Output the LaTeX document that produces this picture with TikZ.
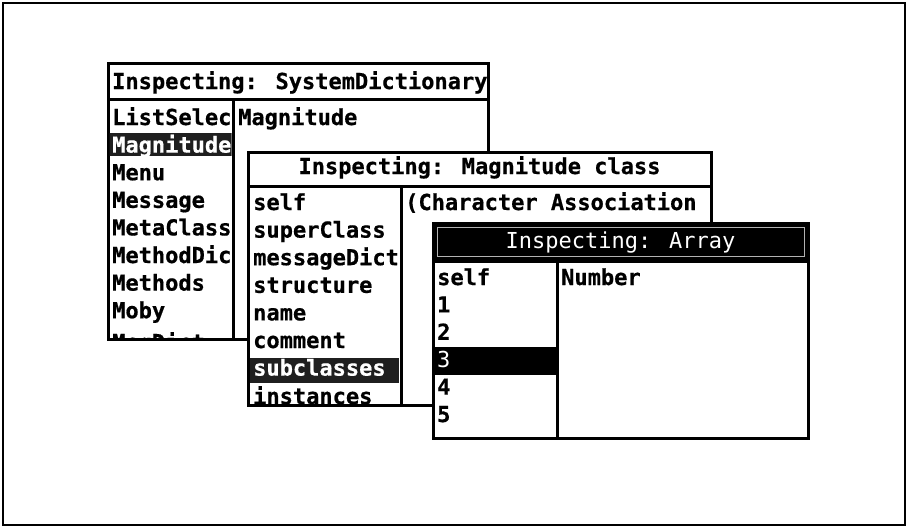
\documentclass[tikz,border=0pt]{standalone}
\usepackage{fontspec}
\newfontfamily\termfont{DejaVu Sans Mono}[BoldFeatures={FakeBold=0.6}]
\tikzset{
  x=1pt, y=-1pt,
  pane/.style={draw=black, line width=3pt, fill=white},
  rule/.style={draw=black, line width=3pt},
  rowtext/.style={anchor=base west, inner sep=0pt, text=black,
    font=\termfont\bfseries\fontsize{22}{22}\selectfont},
  seltext/.style={rowtext, text=white},
  lighttext/.style={inner sep=0pt, text=white,
    font=\termfont\fontsize{22}{22}\selectfont},
  titletext/.style={rowtext, anchor=base},
  dither/.style={fill=black!88},
}
\begin{document}
\begin{tikzpicture}
\useasboundingbox (0,0) rectangle (907,527);
% outer frame
\draw[line width=2pt] (3,3) rectangle (905,525);

% ---------- SystemDictionary inspector ----------
\draw[pane] (108,64) rectangle (488,339);
\draw[rule] (108,99) -- (488,99);
\draw[rule] (233,99) -- (233,339);
\node[rowtext] (t1) at (112,89) {Inspecting: SystemDictionary};
\begin{scope}
  \clip (109.5,100.5) rectangle (231.5,337.5);
  \fill[dither] (108,133) rectangle (233,156);
  \node[rowtext]  (a1) at (112,125)   {ListSelec};
  \node[seltext]  (a2) at (112,152.6) {Magnitude};
  \node[rowtext]  (a3) at (112,180.2) {Menu};
  \node[rowtext]  (a4) at (112,207.8) {Message};
  \node[rowtext]  (a5) at (112,235.4) {MetaClass};
  \node[rowtext]  (a6) at (112,263)   {MethodDic};
  \node[rowtext]  (a7) at (112,290.6) {Methods};
  \node[rowtext]  (a8) at (112,318.2) {Moby};
  \node[rowtext]  (a9) at (112,350)   {MsgDict};
\end{scope}
\node[rowtext] (v1) at (238,125) {Magnitude};

% ---------- Magnitude class inspector ----------
\draw[pane] (248,152) rectangle (711,405);
\draw[rule] (248,186) -- (711,186);
\draw[rule] (401,186) -- (401,405);
\node[titletext] (t2) at (479.5,174) {Inspecting: Magnitude class};
\begin{scope}
  \clip (249.5,187.5) rectangle (399.5,403.5);
  \fill[dither] (250,358) rectangle (399,383);
  \node[rowtext] (b1) at (253,210)   {self};
  \node[rowtext] (b2) at (253,237.6) {superClass};
  \node[rowtext] (b3) at (253,265.2) {messageDict};
  \node[rowtext] (b4) at (253,292.8) {structure};
  \node[rowtext] (b5) at (253,320.4) {name};
  \node[rowtext] (b6) at (253,348)   {comment};
  \node[seltext] (b7) at (253,375.6) {subclasses};
  \node[rowtext] (b8) at (253,404)   {instances};
\end{scope}
\node[rowtext] (v2) at (405,210) {(Character Association};

% ---------- Array inspector ----------
\draw[pane] (433,223) rectangle (808,438);
\fill[black] (433,223) rectangle (808,260);
\draw[gray!60, line width=0.8pt] (437,227) rectangle (804,256);
\draw[rule] (433,261) -- (808,261);
\draw[rule] (557,260) -- (557,438);
\fill[black] (434,347) rectangle (557,375);
\node[lighttext, anchor=base] (t3) at (620.5,248) {Inspecting: Array};
\node[rowtext] (c1) at (437,285)   {self};
\node[rowtext] (c2) at (437,312.4) {1};
\node[rowtext] (c3) at (437,339.8) {2};
\node[lighttext, anchor=base west] (c4) at (437,367.2) {3};
\node[rowtext] (c5) at (437,394.6) {4};
\node[rowtext] (c6) at (437,422)   {5};
\node[rowtext] (v3) at (561,285) {Number};
\end{tikzpicture}
\end{document}
